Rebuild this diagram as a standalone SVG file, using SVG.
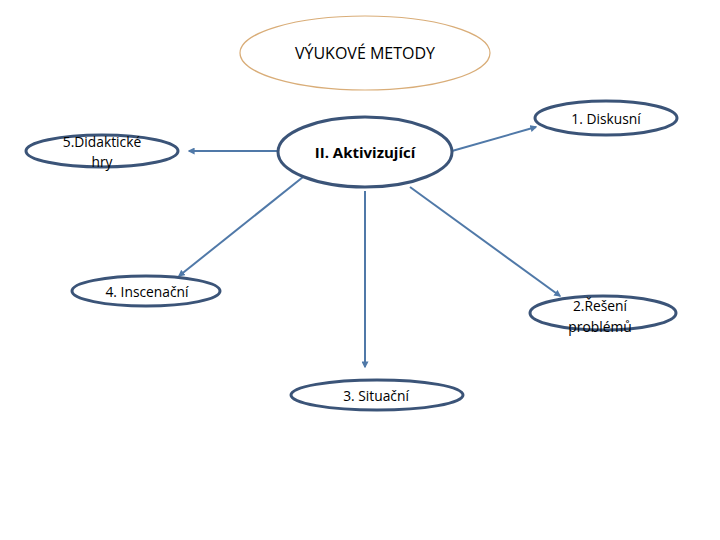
<svg xmlns="http://www.w3.org/2000/svg" width="720" height="540" viewBox="0 0 720 540">
<style>
.node{fill:#fff;stroke:#3b5478;stroke-width:3}
.title{fill:#fff;stroke:#d9ad78;stroke-width:1.2}
text{font-family:"Open Sans","Liberation Sans",sans-serif;font-size:13.8px;fill:#000;text-anchor:middle;dominant-baseline:central}
.big{font-size:16px}
.bold{font-weight:bold;font-size:15px}
.conn{stroke:#5079a8;stroke-width:2;fill:none;marker-end:url(#arr)}
</style>
<defs>
<marker id="arr" viewBox="0 0 10 10" refX="8" refY="5" markerWidth="3.5" markerHeight="3.5" orient="auto" markerUnits="strokeWidth">
<path d="M0,0 L10,5 L0,10 z" fill="#5079a8"/>
</marker>
</defs>
<rect width="720" height="540" fill="#fff"/>
<g id="connectors">
<line class="conn" x1="279" y1="151" x2="189" y2="151"/>
<line class="conn" x1="452" y1="151" x2="536" y2="127"/>
<line class="conn" x1="303" y1="177" x2="179" y2="276"/>
<line class="conn" x1="365" y1="191" x2="365" y2="367"/>
<line class="conn" x1="410" y1="187" x2="560" y2="296"/>
</g>
<g id="title">
<ellipse class="title" cx="365" cy="53" rx="125" ry="37"/>
<text class="big" x="365" y="53">VÝUKOVÉ METODY</text>
</g>
<g id="center">
<ellipse class="node" cx="365" cy="152" rx="87" ry="35"/>
<text class="bold" x="365" y="152">II. Aktivizující</text>
</g>
<g id="n5">
<ellipse class="node" cx="102" cy="151" rx="76" ry="16"/>
<text x="102" y="141">5.Didaktické</text>
<text x="102" y="161">hry</text>
</g>
<g id="n1">
<ellipse class="node" cx="606" cy="118" rx="71" ry="17"/>
<text x="606" y="118">1. Diskusní</text>
</g>
<g id="n4">
<ellipse class="node" cx="146" cy="291" rx="74" ry="15"/>
<text x="147" y="291">4. Inscenační</text>
</g>
<g id="n2">
<ellipse class="node" cx="603" cy="313" rx="73" ry="17"/>
<text x="600" y="305">2.Řešení</text>
<text x="600" y="326">problémů</text>
</g>
<g id="n3">
<ellipse class="node" cx="377" cy="395" rx="86" ry="15"/>
<text x="376" y="395">3. Situační</text>
</g>
</svg>
